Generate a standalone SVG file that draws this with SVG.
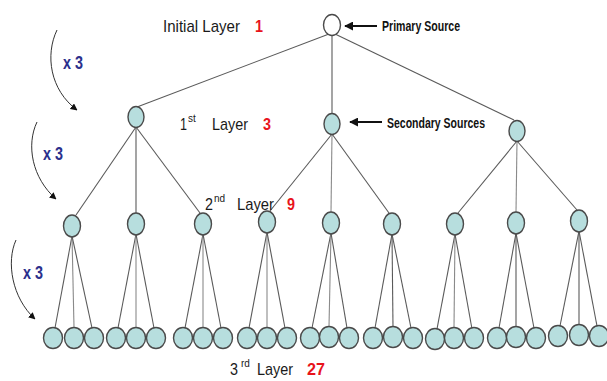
<svg xmlns="http://www.w3.org/2000/svg" width="607" height="381" viewBox="0 0 607 381">
<style>
.n{fill:#b7dede;stroke:#4a4a4a;stroke-width:1.4}
.root{fill:#ffffff;stroke:#4a4a4a;stroke-width:1.4}
.e{stroke:#5a5a5a;stroke-width:1.1;fill:none}
.em{stroke:#8a8a8a;stroke-width:1.1;fill:none}
.lab{font-family:"Liberation Sans",Arial,sans-serif;font-size:17px;fill:#1a1a1a}
.sup{font-family:"Liberation Sans",Arial,sans-serif;font-size:10px;fill:#1a1a1a}
.num{font-family:"Liberation Sans",Arial,sans-serif;font-size:17px;font-weight:bold;fill:#e8141b}
.x3{font-family:"Liberation Sans",Arial,sans-serif;font-size:18px;font-weight:bold;fill:#2b2f8c}
.src{font-family:"Liberation Sans",Arial,sans-serif;font-size:14px;font-weight:bold;fill:#111}
.arc{stroke:#333;stroke-width:1;fill:none}
</style>
<defs>
<marker id="ah" viewBox="0 0 10 10" refX="9" refY="5" markerWidth="7" markerHeight="7" orient="auto" markerUnits="userSpaceOnUse">
<path d="M0,0 L10,5 L0,10 Z" fill="#111"/>
</marker>
<marker id="ptr" viewBox="0 0 10 10" refX="9" refY="5" markerWidth="9" markerHeight="9" orient="auto" markerUnits="userSpaceOnUse">
<path d="M0,0 L10,5 L0,10 Z" fill="#111"/>
</marker>
</defs>
<rect width="607" height="381" fill="#ffffff"/>

<g id="connectors">
<line class="e" x1="329" y1="34" x2="137" y2="107"/>
<line class="e" x1="332" y1="35" x2="332" y2="114"/>
<line class="e" x1="335" y1="34" x2="514" y2="120"/>

<line class="e" x1="136" y1="127" x2="76" y2="215"/>
<line class="e" x1="136" y1="127" x2="136" y2="213"/>
<line class="e" x1="136" y1="127" x2="200" y2="213"/>
<line class="e" x1="332" y1="134" x2="270" y2="211"/>
<line class="em" x1="332" y1="134" x2="331" y2="212"/>
<line class="e" x1="332" y1="134" x2="389" y2="213"/>
<line class="e" x1="517" y1="141" x2="458" y2="213"/>
<line class="em" x1="517" y1="141" x2="516" y2="212"/>
<line class="e" x1="517" y1="141" x2="577" y2="210"/>

<line class="e" x1="72" y1="236" x2="55" y2="328"/>
<line class="em" x1="72" y1="236" x2="74" y2="327"/>
<line class="e" x1="72" y1="236" x2="92" y2="328"/>
<line class="e" x1="136" y1="234" x2="118" y2="328"/>
<line class="em" x1="136" y1="234" x2="136" y2="327"/>
<line class="e" x1="136" y1="234" x2="154" y2="328"/>
<line class="e" x1="203" y1="234" x2="185" y2="328"/>
<line class="em" x1="203" y1="234" x2="203" y2="327"/>
<line class="e" x1="203" y1="234" x2="221" y2="328"/>
<line class="e" x1="267" y1="232" x2="249" y2="328"/>
<line class="em" x1="267" y1="232" x2="267" y2="327"/>
<line class="e" x1="267" y1="232" x2="285" y2="328"/>
<line class="e" x1="331" y1="233" x2="312" y2="328"/>
<line class="em" x1="331" y1="233" x2="329" y2="327"/>
<line class="e" x1="331" y1="233" x2="347" y2="328"/>
<line class="e" x1="392" y1="234" x2="375" y2="328"/>
<line class="e" x1="392" y1="234" x2="393" y2="327"/>
<line class="e" x1="392" y1="234" x2="411" y2="328"/>
<line class="e" x1="455" y1="234" x2="437" y2="329"/>
<line class="em" x1="455" y1="234" x2="454" y2="328"/>
<line class="e" x1="455" y1="234" x2="472" y2="329"/>
<line class="e" x1="516" y1="233" x2="499" y2="328"/>
<line class="e" x1="516" y1="233" x2="516" y2="327"/>
<line class="e" x1="516" y1="233" x2="534" y2="328"/>
<line class="e" x1="579" y1="231" x2="560" y2="326"/>
<line class="e" x1="579" y1="231" x2="579" y2="325"/>
<line class="e" x1="579" y1="231" x2="597" y2="326"/>

<line x1="377" y1="26" x2="345" y2="26" stroke="#111" stroke-width="2" marker-end="url(#ptr)"/>
<line x1="382" y1="122" x2="350" y2="122" stroke="#111" stroke-width="2" marker-end="url(#ptr)"/>

<path class="arc" d="M57,30 C45,55 50,90 77,110" marker-end="url(#ah)"/>
<path class="arc" d="M37,122 C26,145 32,178 56,199" marker-end="url(#ah)"/>
<path class="arc" d="M16,240 C6,262 12,298 35,319" marker-end="url(#ah)"/>
</g>

<g id="root"><ellipse class="root" cx="332" cy="25" rx="8.5" ry="10.5"/></g>

<g id="l1a"><ellipse class="n" cx="136" cy="117" rx="8" ry="10.5"/></g>
<g id="l1b"><ellipse class="n" cx="332" cy="124" rx="8" ry="10.5"/></g>
<g id="l1c"><ellipse class="n" cx="517" cy="131" rx="8" ry="10.5"/></g>

<g id="l2a"><ellipse class="n" cx="72" cy="226" rx="8.5" ry="11"/></g>
<g id="l2b"><ellipse class="n" cx="136" cy="224" rx="8.5" ry="11"/></g>
<g id="l2c"><ellipse class="n" cx="203" cy="224" rx="8.5" ry="11"/></g>
<g id="l2d"><ellipse class="n" cx="267" cy="222" rx="8.5" ry="11"/></g>
<g id="l2e"><ellipse class="n" cx="331" cy="223" rx="8.5" ry="11"/></g>
<g id="l2f"><ellipse class="n" cx="392" cy="224" rx="8.5" ry="11"/></g>
<g id="l2g"><ellipse class="n" cx="455" cy="224" rx="8.5" ry="11"/></g>
<g id="l2h"><ellipse class="n" cx="516" cy="223" rx="8.5" ry="11"/></g>
<g id="l2i"><ellipse class="n" cx="579" cy="221" rx="8.5" ry="11"/></g>

<g id="l3-1"><ellipse class="n" cx="53" cy="338" rx="9.5" ry="10.5"/></g>
<g id="l3-2"><ellipse class="n" cx="74" cy="338" rx="9.5" ry="10.5"/></g>
<g id="l3-3"><ellipse class="n" cx="94" cy="338" rx="9.5" ry="10.5"/></g>
<g id="l3-4"><ellipse class="n" cx="116" cy="338" rx="9.5" ry="10.5"/></g>
<g id="l3-5"><ellipse class="n" cx="136" cy="338" rx="9.5" ry="10.5"/></g>
<g id="l3-6"><ellipse class="n" cx="156" cy="338" rx="9.5" ry="10.5"/></g>
<g id="l3-7"><ellipse class="n" cx="183" cy="338" rx="9.5" ry="10.5"/></g>
<g id="l3-8"><ellipse class="n" cx="203" cy="338" rx="9.5" ry="10.5"/></g>
<g id="l3-9"><ellipse class="n" cx="223" cy="338" rx="9.5" ry="10.5"/></g>
<g id="l3-10"><ellipse class="n" cx="247" cy="338" rx="9.5" ry="10.5"/></g>
<g id="l3-11"><ellipse class="n" cx="267" cy="338" rx="9.5" ry="10.5"/></g>
<g id="l3-12"><ellipse class="n" cx="287" cy="338" rx="9.5" ry="10.5"/></g>
<g id="l3-13"><ellipse class="n" cx="310" cy="338" rx="9.5" ry="10.5"/></g>
<g id="l3-14"><ellipse class="n" cx="329" cy="337" rx="9.5" ry="10.5"/></g>
<g id="l3-15"><ellipse class="n" cx="349" cy="338" rx="9.5" ry="10.5"/></g>
<g id="l3-16"><ellipse class="n" cx="373" cy="338" rx="9.5" ry="10.5"/></g>
<g id="l3-17"><ellipse class="n" cx="393" cy="337" rx="9.5" ry="10.5"/></g>
<g id="l3-18"><ellipse class="n" cx="413" cy="338" rx="9.5" ry="10.5"/></g>
<g id="l3-19"><ellipse class="n" cx="435" cy="339" rx="9.5" ry="10.5"/></g>
<g id="l3-20"><ellipse class="n" cx="454" cy="338" rx="9.5" ry="10.5"/></g>
<g id="l3-21"><ellipse class="n" cx="474" cy="338" rx="9.5" ry="10.5"/></g>
<g id="l3-22"><ellipse class="n" cx="497" cy="338" rx="9.5" ry="10.5"/></g>
<g id="l3-23"><ellipse class="n" cx="516" cy="337" rx="9.5" ry="10.5"/></g>
<g id="l3-24"><ellipse class="n" cx="536" cy="338" rx="9.5" ry="10.5"/></g>
<g id="l3-25"><ellipse class="n" cx="558" cy="336" rx="9.5" ry="10.5"/></g>
<g id="l3-26"><ellipse class="n" cx="579" cy="335" rx="9.5" ry="10.5"/></g>
<g id="l3-27"><ellipse class="n" cx="599" cy="336" rx="9.5" ry="10.5"/></g>

<g id="labels">
<text class="lab" x="163" y="32" textLength="77" lengthAdjust="spacingAndGlyphs">Initial Layer</text>
<text class="num" x="255" y="32" textLength="8" lengthAdjust="spacingAndGlyphs">1</text>

<text class="lab" x="180" y="130" textLength="7" lengthAdjust="spacingAndGlyphs">1</text>
<text class="sup" x="188" y="122">st</text>
<text class="lab" x="212" y="130" textLength="36" lengthAdjust="spacingAndGlyphs">Layer</text>
<text class="num" x="263" y="130" textLength="8" lengthAdjust="spacingAndGlyphs">3</text>

<text class="lab" x="205" y="210" textLength="8" lengthAdjust="spacingAndGlyphs">2</text>
<text class="sup" x="214" y="202">nd</text>
<text class="lab" x="237" y="210" textLength="37" lengthAdjust="spacingAndGlyphs">Layer</text>
<text class="num" x="287" y="210" textLength="8" lengthAdjust="spacingAndGlyphs">9</text>

<text class="lab" x="230" y="375" textLength="8" lengthAdjust="spacingAndGlyphs">3</text>
<text class="sup" x="241" y="367">rd</text>
<text class="lab" x="257" y="375" textLength="36" lengthAdjust="spacingAndGlyphs">Layer</text>
<text class="num" x="307" y="375" textLength="18" lengthAdjust="spacingAndGlyphs">27</text>

<text class="x3" x="63" y="69" textLength="20" lengthAdjust="spacingAndGlyphs">x 3</text>
<text class="x3" x="43" y="160" textLength="20" lengthAdjust="spacingAndGlyphs">x 3</text>
<text class="x3" x="23" y="279" textLength="20" lengthAdjust="spacingAndGlyphs">x 3</text>

<text class="src" x="382" y="31" textLength="78" lengthAdjust="spacingAndGlyphs">Primary Source</text>
<text class="src" x="387" y="128" textLength="98" lengthAdjust="spacingAndGlyphs">Secondary Sources</text>
</g>
</svg>
